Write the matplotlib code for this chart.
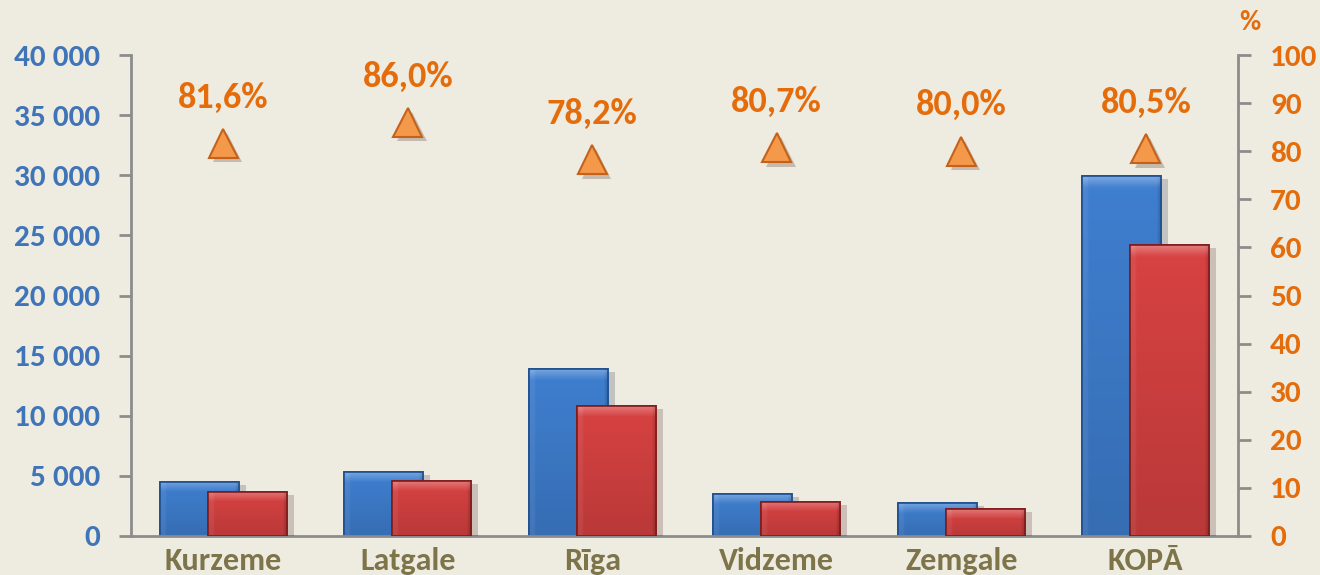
import matplotlib.pyplot as plt
import matplotlib.patheffects as pe
from matplotlib.colors import to_rgb
import numpy as np

# -------------------------- data --------------------------
regions = ['Kurzeme', 'Latgale', 'Rīga', 'Vidzeme', 'Zemgale', 'KOPĀ']
series_blue = [4500, 5320, 13880, 3490, 2740, 29930]
series_red = [3660, 4570, 10800, 2830, 2240, 24190]
share_pct = [81.6, 86.0, 78.2, 80.7, 80.0, 80.5]
share_labels = ['81,6%', '86,0%', '78,2%', '80,7%', '80,0%', '80,5%']
left_ticks = [0, 5000, 10000, 15000, 20000, 25000, 30000, 35000, 40000]
left_ticklabels = ['0', '5 000', '10 000', '15 000', '20 000', '25 000', '30 000', '35 000', '40 000']
right_ticks = [0, 10, 20, 30, 40, 50, 60, 70, 80, 90, 100]

# -------------------------- style --------------------------
bg = '#EEEBE1'
blue, blue_edge = '#3F7FD0', '#1E4E8E'
red, red_edge = '#D84242', '#7E1C1C'
orange_fill, orange_edge = '#F4994A', '#C4621C'
orange_text = '#E46C0A'
blue_text = '#3F75B8'
olive_text = '#7D744A'
axis_gray = '#8C8C8C'

plt.rcParams['font.family'] = ['Carlito', 'DejaVu Sans']
plt.rcParams['font.weight'] = 'bold'

fig = plt.figure(figsize=(13.2, 5.75), dpi=100, facecolor=bg)
ax = fig.add_axes([131 / 1320, 1 - 536 / 575, (1238 - 131) / 1320, (536 - 55) / 575])
ax.set_facecolor(bg)
ax2 = ax.twinx()

x = np.arange(len(regions))
w = 0.43
off = 0.13
shadow = [pe.SimplePatchShadow(offset=(5, -2), alpha=0.2), pe.Normal()]

ax.set_xlim(-0.5, len(regions) - 0.5)
ax.set_ylim(0, 40000)


def shaded_bars(xpos, vals, base, edge, z):
    bars = ax.bar(xpos, vals, width=w, color=base, edgecolor=edge, linewidth=1.2,
                  path_effects=shadow, zorder=z)
    # soft bevel look: light band at the top, slightly darker bottom and right side
    rgb = np.array(to_rgb(base))
    ny, nx = 80, 40
    yy = np.linspace(0, 1, ny)[:, None]
    xx = np.linspace(0, 1, nx)[None, :]
    for b in bars:
        h_px = b.get_height() / 40000 * 481
        top = np.clip(1 - (1 - yy) * h_px / 10, 0, 1)
        lift = 0.28 * top + 0.06 * (xx < 0.07)
        dark = 0.14 * (1 - yy) + 0.12 * (xx > 0.95)
        img = rgb[None, None, :] * (1 - dark[..., None])
        img = img + (1 - img) * lift[..., None]
        im = ax.imshow(np.clip(img, 0, 1),
                       extent=[b.get_x(), b.get_x() + b.get_width(), 0, b.get_height()],
                       origin='lower', aspect='auto', zorder=z, interpolation='bilinear')
        im.set_clip_path(b)
        ax.add_patch(plt.Rectangle((b.get_x(), 0), b.get_width(), b.get_height(), fill=False,
                                   edgecolor=edge, linewidth=1.2, zorder=z + 0.1))
    return bars


shaded_bars(x - off, series_blue, blue, blue_edge, 2)
shaded_bars(x + off, series_red, red, red_edge, 3)

ax.set_xlim(-0.5, len(regions) - 0.5)
ax.set_ylim(0, 40000)
ax.set_yticks(left_ticks)
ax.set_yticklabels(left_ticklabels)
ax.set_xticks(x)
ax.set_xticklabels(regions)

ax.tick_params(axis='y', colors=axis_gray, labelcolor=blue_text, labelsize=22.5,
               length=9, width=2, pad=13)
ax.tick_params(axis='x', length=0, labelcolor=olive_text, labelsize=23, pad=8)

for s in ['top', 'right']:
    ax.spines[s].set_visible(False)
ax.spines['left'].set_color(axis_gray)
ax.spines['left'].set_linewidth(2)
ax.spines['bottom'].set_color(axis_gray)
ax.spines['bottom'].set_linewidth(2)

# right axis: share
ax2.set_ylim(0, 100)
ax2.set_yticks(right_ticks)
ax2.tick_params(axis='y', colors=axis_gray, labelcolor=orange_text, labelsize=22.5,
                length=9, width=2, pad=14)
for s in ['top', 'left', 'bottom']:
    ax2.spines[s].set_visible(False)
ax2.spines['right'].set_color(axis_gray)
ax2.spines['right'].set_linewidth(2)

ax2.plot(x, share_pct, linestyle='none', marker='^', markersize=21,
         markerfacecolor=orange_fill, markeredgecolor=orange_edge, markeredgewidth=1.5,
         path_effects=[pe.SimplePatchShadow(offset=(3, -3), alpha=0.25), pe.Normal()], zorder=5)

for xi, v, lab in zip(x, share_pct, share_labels):
    ax2.annotate(lab, (xi, v), xytext=(0, 33), textcoords='offset points',
                 ha='center', va='center', fontsize=26, color=orange_text,
                 fontweight='bold')

fig.text(1250 / 1320, 1 - 22 / 575, '%', ha='center', va='center', fontsize=21,
         color=orange_text, fontweight='bold')

fig.savefig('out.png', dpi=100, facecolor=bg)
